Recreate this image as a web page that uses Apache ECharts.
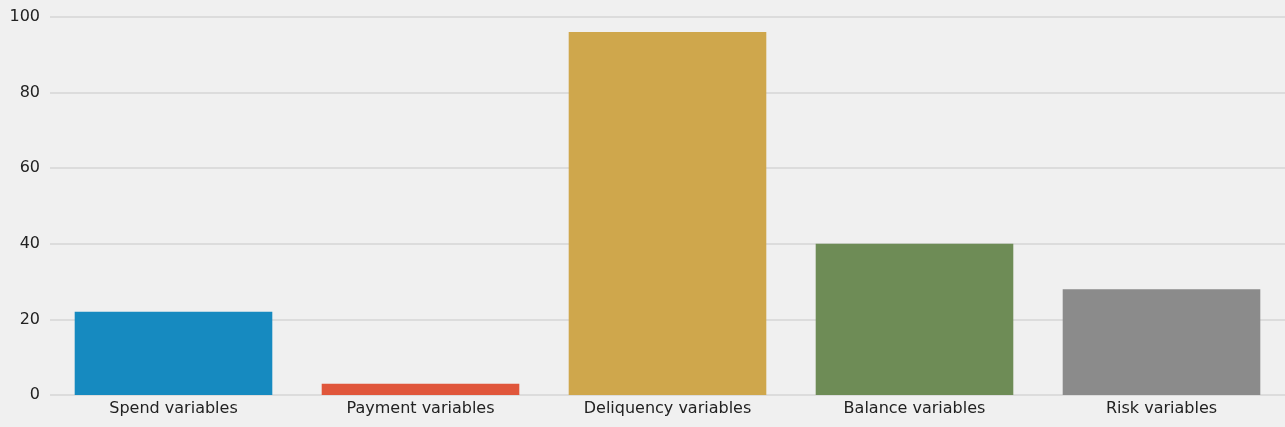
<!DOCTYPE html>
<html>
<head>
<meta charset="utf-8" />
<script src="https://cdn.jsdelivr.net/npm/echarts@6/dist/echarts.min.js"></script>
<style>
  html, body { margin: 0; padding: 0; background: #fff; }
  #chart { width: 1285px; height: 427px; background: #f0f0f0; border-radius: 6px; }
</style>
</head>
<body>
<div id="chart"></div>
<script>
var categories = ['Spend variables', 'Payment variables', 'Deliquency variables', 'Balance variables', 'Risk variables'];
var values = [22, 3, 96, 40, 28];
var colors = ['#168ac0', '#e0563b', '#cfa74c', '#6e8c56', '#8b8b8b'];
var yTicks = [0, 20, 40, 60, 80, 100];

var chart = echarts.init(document.getElementById('chart'), null, {renderer: 'canvas'});
chart.setOption({
    backgroundColor: '#f0f0f0',
    animation: false,
    grid: {left: 50, right: 0, top: 17, bottom: 32},
    xAxis: {
        type: 'category',
        data: categories,
        axisLine: {show: false},
        axisTick: {show: false},
        axisLabel: {color: '#222', fontSize: 16, fontFamily: 'DejaVu Sans', margin: 6}
    },
    yAxis: {
        type: 'value',
        min: yTicks[0],
        max: yTicks[yTicks.length - 1],
        interval: 20,
        axisLine: {show: false},
        axisTick: {show: false},
        axisLabel: {color: '#222', fontSize: 16, fontFamily: 'DejaVu Sans', margin: 10},
        splitLine: {lineStyle: {color: '#d6d6d6', width: 1.5}}
    },
    series: [{
        type: 'bar',
        barWidth: '80%',
        data: values.map(function (v, i) { return {value: v, itemStyle: {color: colors[i]}}; })
    }]
});
</script>
</body>
</html>
